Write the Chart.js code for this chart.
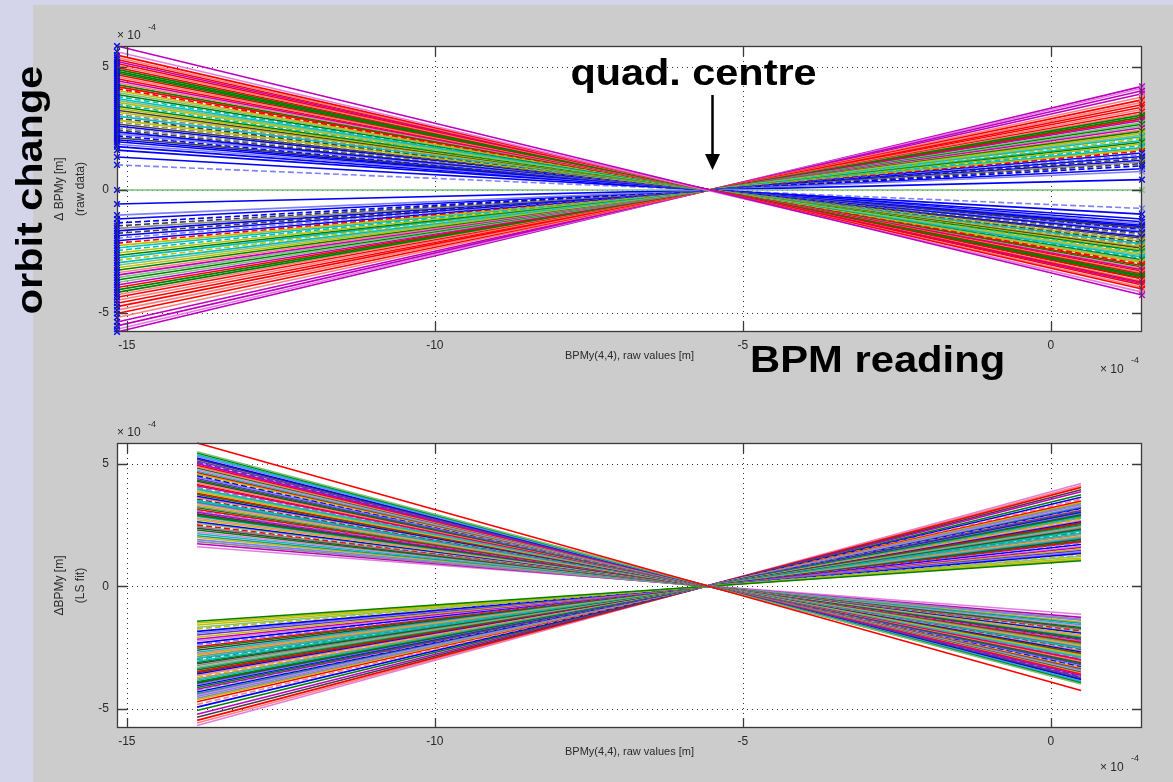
<!DOCTYPE html>
<html>
<head>
<meta charset="utf-8">
<script src="https://cdn.jsdelivr.net/npm/chart.js@4.4.0/dist/chart.umd.min.js"></script>
<style>
html, body { margin: 0; padding: 0; }
body { width: 1173px; height: 782px; background: #d4d4ea; position: relative; overflow: hidden; }
#panel { position: absolute; left: 33px; top: 5px; right: 0; bottom: 0; background: #cccccc; }
canvas { position: absolute; left: 0; }
#rawPlot { top: 0; }
#fitPlot { top: 391px; }
</style>
</head>
<body>
<div id="panel"></div>
<canvas id="rawPlot" width="1173" height="391"></canvas>
<canvas id="fitPlot" width="1173" height="391"></canvas>
<script>
// BPM reading range of the scan (x 1e-4 m)
const rawStart = -15.16;
const rawEnd = 1.48;
const fitStart = -13.86;
const fitEnd = 0.49;
const quadCentre = -5.5;

const xTicks = [-15, -10, -5, 0];
const yTicks = [-5, 0, 5];

// orbit change at both ends of the scan, one entry per corrector (raw data)
const topLeft = [5.85, 5.62, 5.48, 5.38, 5.30, 5.22, 5.14, 5.06, 4.98, 4.90, 4.82, 4.75, 4.68, 4.60, 4.52,
  4.44, 4.36, 4.28, 4.20, 4.12, 4.04, 3.96, 3.88, 3.80, 3.72, 3.64, 3.56, 3.48, 3.40, 3.32, 3.24, 3.16,
  3.08, 3.00, 2.92, 2.84, 2.76, 2.68, 2.60, 2.52, 2.44, 2.36, 2.28, 2.20, 2.12, 2.04, 1.96, 1.86, 1.76,
  1.62, 1.34, 1.02, 0,
  -0.57, -1.02, -1.18, -1.34, -1.46, -1.56, -1.66, -1.76, -1.86, -1.96, -2.06, -2.16, -2.26, -2.36, -2.46,
  -2.56, -2.66, -2.76, -2.86, -2.96, -3.06, -3.16, -3.26, -3.36, -3.46, -3.56, -3.66, -3.76, -3.86, -3.96,
  -4.06, -4.16, -4.26, -4.36, -4.48, -4.60, -4.74, -4.88, -5.02, -5.18, -5.36, -5.52, -5.66, -5.77];
const topRight = [-4.27, -4.15, -4.02, -3.95, -3.86, -3.80, -3.75, -3.70, -3.62, -3.58, -3.52, -3.47, -3.41,
  -3.36, -3.30, -3.24, -3.19, -3.13, -3.07, -3.01, -2.95, -2.89, -2.84, -2.78, -2.72, -2.66, -2.60, -2.54,
  -2.49, -2.43, -2.37, -2.31, -2.25, -2.19, -2.13, -2.08, -2.02, -1.96, -1.90, -1.84, -1.78, -1.72, -1.66,
  -1.61, -1.55, -1.49, -1.43, -1.36, -1.29, -1.18, -0.98, -0.75, 0,
  0.42, 0.75, 0.86, 0.98, 1.07, 1.14, 1.21, 1.28, 1.36, 1.43, 1.50, 1.58, 1.65, 1.72, 1.80, 1.87, 1.94,
  2.01, 2.09, 2.16, 2.23, 2.31, 2.38, 2.45, 2.53, 2.60, 2.67, 2.74, 2.82, 2.89, 2.96, 3.04, 3.11, 3.18,
  3.27, 3.36, 3.46, 3.56, 3.66, 3.78, 3.91, 4.03, 4.13, 4.21];
const topColors = 'mnrprmrprgggrprmpgrrylgcclycgykyackyakbakbvbkbbvbbbvl' +
  'bvbbkabkbvbryccygcyclygpmlglmrggprprrprpmmnm';
const topDashed = [19, 23, 27, 32, 34, 36, 39, 40, 43, 51, 56, 57, 60, 62, 64, 67, 71];

// least-squares fitted lines over the fit range
const fitLeft = [5.85, 5.49, 5.44, 5.37, 5.31, 5.24, 5.19, 5.12, 5.06, 5.01, 4.94, 4.88, 4.83, 4.76, 4.70,
  4.65, 4.58, 4.52, 4.47, 4.40, 4.34, 4.29, 4.22, 4.16, 4.11, 4.04, 3.98, 3.93, 3.86, 3.80, 3.75, 3.68,
  3.62, 3.57, 3.50, 3.44, 3.39, 3.32, 3.26, 3.21, 3.14, 3.08, 3.03, 2.96, 2.90, 2.85, 2.78, 2.72, 2.64,
  2.58, 2.51, 2.44, 2.38, 2.30, 2.22, 2.15, 2.07, 2.00, 1.91, 1.83, 1.74, 1.62,
  -1.42, -1.49, -1.57, -1.66, -1.73, -1.83, -1.91, -1.98, -2.07, -2.15, -2.22, -2.31, -2.39, -2.46, -2.52,
  -2.60, -2.68, -2.74, -2.79, -2.86, -2.93, -2.98, -3.05, -3.10, -3.15, -3.22, -3.29, -3.34, -3.40, -3.47,
  -3.52, -3.57, -3.64, -3.71, -3.76, -3.82, -3.89, -3.94, -4.00, -4.05, -4.12, -4.19, -4.24, -4.30, -4.37,
  -4.42, -4.48, -4.56, -4.62, -4.70, -4.81, -4.92, -5.06, -5.21, -5.33, -5.46, -5.57, -5.67];
const fitRight = [-4.24, -3.98, -3.94, -3.89, -3.85, -3.80, -3.76, -3.71, -3.67, -3.63, -3.58, -3.54, -3.50,
  -3.45, -3.41, -3.37, -3.32, -3.28, -3.24, -3.19, -3.15, -3.11, -3.06, -3.02, -2.98, -2.93, -2.89, -2.85,
  -2.80, -2.76, -2.72, -2.67, -2.62, -2.59, -2.54, -2.49, -2.46, -2.41, -2.36, -2.33, -2.28, -2.23, -2.20,
  -2.15, -2.10, -2.07, -2.02, -1.97, -1.91, -1.87, -1.82, -1.77, -1.73, -1.67, -1.61, -1.56, -1.50, -1.45,
  -1.38, -1.33, -1.26, -1.13,
  1.05, 1.10, 1.16, 1.23, 1.28, 1.35, 1.41, 1.47, 1.53, 1.59, 1.64, 1.71, 1.77, 1.82, 1.86, 1.92, 1.98,
  2.03, 2.06, 2.12, 2.17, 2.21, 2.26, 2.29, 2.33, 2.38, 2.43, 2.47, 2.52, 2.57, 2.60, 2.64, 2.69, 2.75,
  2.78, 2.83, 2.88, 2.92, 2.96, 3.00, 3.05, 3.10, 3.14, 3.18, 3.23, 3.27, 3.32, 3.37, 3.42, 3.48, 3.56,
  3.64, 3.74, 3.86, 3.94, 4.04, 4.12, 4.20];
const fitColors = 'rlgcvbkuumrpgncrybvugkprmaclyrgbpkctnyagrvmkgcpyblrakgnctyvamn' +
  'gyylybvuymnbvrgkcpyactcgkaltgrkbpyacgkvbgmlbtnvayrpbgmkrpnr';
const fitDashed = [8, 17, 25, 33, 41, 50, 66, 74, 83, 95, 104, 112];

const palette = {
  b: '#0000ff', g: '#008000', r: '#ff0000', c: '#00bfbf', m: '#bf00bf', y: '#bfbf00', k: '#404040',
  p: '#ff7f7f', l: '#7fbf7f', a: '#8c8c8c', v: '#7f7fff', n: '#df7fdf', t: '#2f8f8f', u: '#6a2fc0'
};

function makeLines(x0, x1, leftVals, rightVals, codes, dashed, markers) {
  return leftVals.map((v, i) => {
    let col = palette[codes[i % codes.length]];
    return {
      data: [{x: x0, y: v}, {x: x1, y: rightVals[i]}],
      showLine: true,
      borderColor: col,
      borderWidth: 1.6,
      borderDash: dashed.includes(i) ? [6, 3] : [],
      pointStyle: 'crossRot',
      pointRadius: markers ? 4 : 0,
      pointBorderColor: markers ? ['#0000ff', col] : col,
      pointBorderWidth: 1.4,
      clip: 6
    };
  });
}

const smallFont = '12px "Liberation Sans", Arial, sans-serif';

// matlab style box: white axes, dotted grid, inward ticks, labels drawn by hand
const axesBox = {
  id: 'axesBox',
  beforeDraw(chart) {
    const {ctx, chartArea: a} = chart;
    ctx.save();
    ctx.fillStyle = '#ffffff';
    ctx.fillRect(a.left, a.top, a.right - a.left, a.bottom - a.top);
    ctx.restore();
  },
  beforeDatasetsDraw(chart) {
    const {ctx, chartArea: a, scales} = chart;
    ctx.save();
    ctx.strokeStyle = '#333333';
    ctx.lineWidth = 1;
    ctx.setLineDash([1, 4]);
    ctx.beginPath();
    xTicks.forEach(v => {
      let px = Math.round(scales.x.getPixelForValue(v)) + 0.5;
      ctx.moveTo(px, a.top); ctx.lineTo(px, a.bottom);
    });
    yTicks.forEach(v => {
      let py = Math.round(scales.y.getPixelForValue(v)) + 0.5;
      ctx.moveTo(a.left, py); ctx.lineTo(a.right, py);
    });
    ctx.stroke();
    ctx.restore();
  },
  afterDatasetsDraw(chart) {
    const {ctx, chartArea: a, scales} = chart;
    const tl = 10;
    ctx.save();
    ctx.strokeStyle = '#3a3a3a';
    ctx.lineWidth = 1.3;
    ctx.strokeRect(a.left + 0.5, a.top + 0.5, a.right - a.left - 1, a.bottom - a.top - 1);
    ctx.beginPath();
    xTicks.forEach(v => {
      let px = Math.round(scales.x.getPixelForValue(v)) + 0.5;
      ctx.moveTo(px, a.top); ctx.lineTo(px, a.top + tl);
      ctx.moveTo(px, a.bottom); ctx.lineTo(px, a.bottom - tl);
    });
    yTicks.forEach(v => {
      let py = Math.round(scales.y.getPixelForValue(v)) + 0.5;
      ctx.moveTo(a.left, py); ctx.lineTo(a.left + tl, py);
      ctx.moveTo(a.right, py); ctx.lineTo(a.right - tl, py);
    });
    ctx.stroke();
    ctx.restore();
  },
  afterDraw(chart, args, opts) {
    const {ctx, chartArea: a} = chart;
    ctx.save();
    ctx.fillStyle = '#2a2a2a';
    ctx.font = smallFont;

    // y axis title, two rotated lines
    let midY = (a.top + a.bottom) / 2;
    ctx.textAlign = 'center';
    ctx.textBaseline = 'middle';
    opts.yTitle.forEach((line, i) => {
      ctx.save();
      ctx.translate(a.left - 57 + i * 21, midY);
      ctx.rotate(-Math.PI / 2);
      ctx.fillText(line, 0, 0);
      ctx.restore();
    });

    // x axis title
    ctx.font = '11px "Liberation Sans", Arial, sans-serif';
    ctx.fillText(opts.xTitle, (a.left + a.right) / 2, a.bottom + 24);

    // exponent labels
    ctx.textAlign = 'left';
    ctx.textBaseline = 'alphabetic';
    ctx.font = smallFont;
    ctx.fillText('\u00d7 10', a.left, a.top - 7);
    ctx.fillText('\u00d7 10', a.right - 42, a.bottom + opts.expGap);
    ctx.font = '9px "Liberation Sans", Arial, sans-serif';
    ctx.fillText('-4', a.left + 31, a.top - 16);
    ctx.fillText('-4', a.right - 11, a.bottom + opts.expGap - 10);
    ctx.restore();
  }
};

// big slide annotations on the raw data plot
const slideNotes = {
  id: 'slideNotes',
  afterDraw(chart) {
    const {ctx, scales} = chart;
    const ax = Math.round(scales.x.getPixelForValue(quadCentre)) + 0.5;
    ctx.save();
    ctx.fillStyle = '#000000';
    ctx.strokeStyle = '#000000';
    ctx.font = 'bold 36px "Liberation Sans", Arial, sans-serif';
    ctx.textBaseline = 'alphabetic';

    ctx.save();
    ctx.translate(ax - 19, 85);
    ctx.scale(1.15, 1);
    ctx.textAlign = 'center';
    ctx.fillText('quad. centre', 0, 0);
    ctx.restore();

    ctx.save();
    ctx.translate(750, 372);
    ctx.scale(1.16, 1);
    ctx.textAlign = 'left';
    ctx.fillText('BPM reading', 0, 0);
    ctx.restore();

    ctx.save();
    ctx.translate(42, 190);
    ctx.rotate(-Math.PI / 2);
    ctx.scale(1.15, 1);
    ctx.textAlign = 'center';
    ctx.fillText('orbit change', 0, 0);
    ctx.restore();

    // arrow down to the crossing point
    ctx.lineWidth = 2.5;
    ctx.beginPath();
    ctx.moveTo(ax, 95);
    ctx.lineTo(ax, 156);
    ctx.stroke();
    ctx.beginPath();
    ctx.moveTo(ax - 7.5, 154);
    ctx.lineTo(ax + 7.5, 154);
    ctx.lineTo(ax, 170);
    ctx.closePath();
    ctx.fill();
    ctx.restore();
  }
};

function buildOptions(padTop, xHeight, xMin, xMax, notes) {
  return {
    responsive: false,
    animation: false,
    events: [],
    layout: { padding: { top: padTop, right: 31, left: 0, bottom: 0 } },
    plugins: {
      legend: { display: false },
      tooltip: { enabled: false },
      axesBox: notes
    },
    scales: {
      x: {
        type: 'linear',
        min: xMin,
        max: xMax,
        afterBuildTicks: scale => { scale.ticks = xTicks.map(v => ({value: v})); },
        afterFit: scale => { scale.height = xHeight; },
        grid: { display: false, drawTicks: false },
        border: { display: false },
        ticks: { padding: 6, color: '#2a2a2a', font: { family: '"Liberation Sans", Arial, sans-serif', size: 12 }, maxRotation: 0 }
      },
      y: {
        type: 'linear',
        min: -5.77,
        max: 5.85,
        afterBuildTicks: scale => { scale.ticks = yTicks.map(v => ({value: v})); },
        afterFit: scale => { scale.width = 117; },
        grid: { display: false, drawTicks: false },
        border: { display: false },
        ticks: { padding: 8, color: '#2a2a2a', font: { family: '"Liberation Sans", Arial, sans-serif', size: 12 } }
      }
    }
  };
}

new Chart(document.getElementById('rawPlot'), {
  type: 'scatter',
  data: { datasets: makeLines(rawStart, rawEnd, topLeft, topRight, topColors, topDashed, true) },
  options: buildOptions(46, 59, rawStart, rawEnd, {
    yTitle: ['\u0394 BPMy [m]', '(raw data)'],
    xTitle: 'BPMy(4,4), raw values [m]',
    expGap: 41
  }),
  plugins: [axesBox, slideNotes]
});

new Chart(document.getElementById('fitPlot'), {
  type: 'scatter',
  data: { datasets: makeLines(fitStart, fitEnd, fitLeft, fitRight, fitColors, fitDashed, false) },
  options: buildOptions(52, 54, rawStart, rawEnd, {
    yTitle: ['\u0394BPMy [m]', '(LS fit)'],
    xTitle: 'BPMy(4,4), raw values [m]',
    expGap: 43
  }),
  plugins: [axesBox]
});
</script>
</body>
</html>
